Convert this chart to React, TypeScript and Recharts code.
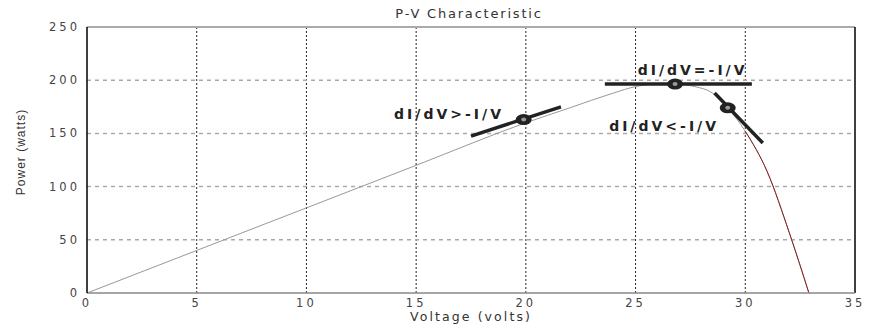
import React from 'react';
import {
    LineChart, Line, XAxis, YAxis, ReferenceLine, ReferenceDot, Label,
} from 'recharts';

// P-V curve of the panel (voltage, power)
const voltage = [0, 5, 10, 15, 20, 22, 24, 25, 26, 27, 27.7, 28.5, 29.2, 30, 31, 32, 32.9];
const power = [0, 40, 80, 120, 160, 174, 188, 194, 196.5, 196, 194, 188, 174, 152, 114, 57, 0];
const tailStart = 30; // part of the curve drawn in dark red

const xTicks = [0, 5, 10, 15, 20, 25, 30, 35];
const yTicks = [0, 50, 100, 150, 200, 250];

// tangent segments: [[v1, p1], [v2, p2]]
const tangents: [number, number][][] = [
    [[17.5, 147.5], [21.6, 175]],
    [[23.6, 196.4], [30.3, 196.4]],
    [[28.6, 188], [30.8, 141]],
];
const operatingPoints: [number, number][] = [[19.9, 163], [26.8, 196.4], [29.2, 174]];
const labels = ['dI/dV>-I/V', 'dI/dV=-I/V', 'dI/dV<-I/V'];
const labelPos: [number, number][] = [[16.5, 168], [27.6, 210], [26.3, 157]];

const curve = voltage.map((v, i) => ({ v, p: power[i], tail: v >= tailStart ? power[i] : null }));

const font = 'DejaVu Sans, sans-serif';
const tickStyle = { fontFamily: font, fontSize: 11.5, fill: '#444', letterSpacing: 3 };

const Marker = (props: any) => {
    const { cx, cy } = props;
    return (
        <g>
            <ellipse cx={cx} cy={cy} rx={8} ry={5.5} fill="#222" />
            <ellipse cx={cx} cy={cy} rx={2.5} ry={2} fill="#999" />
        </g>
    );
};

const App: React.FC = () => {
    return (
        <div style={{ position: 'absolute', left: 0, top: 0, background: '#fff' }}>
            <LineChart width={875} height={328} data={curve} margin={{ top: 27, right: 20, left: 27, bottom: 5 }}>
                <XAxis
                    dataKey="v"
                    type="number"
                    domain={[0, 35]}
                    ticks={xTicks}
                    height={30}
                    axisLine={{ stroke: '#888', strokeWidth: 1.5 }}
                    tickLine={false}
                    tick={tickStyle}
                    tickMargin={0}
                />
                <YAxis
                    type="number"
                    domain={[0, 250]}
                    ticks={yTicks}
                    width={60}
                    axisLine={{ stroke: '#000', strokeWidth: 1.5 }}
                    tickLine={false}
                    tick={tickStyle}
                    tickMargin={1}
                />
                {xTicks.slice(1, -1).map((t) => (
                    <ReferenceLine key={`vx-${t}`} x={t} stroke="#222" strokeDasharray="2 2" />
                ))}
                {yTicks.slice(1, -1).map((t) => (
                    <ReferenceLine key={`hy-${t}`} y={t} stroke="#aaa" strokeDasharray="4 4" strokeWidth={1.5} />
                ))}
                <ReferenceLine y={250} stroke="#aaa" strokeWidth={2} />
                <ReferenceLine x={35} stroke="#000" strokeWidth={1.5} />
                <Line dataKey="p" type="monotone" stroke="#999" strokeWidth={1} dot={false} isAnimationActive={false} />
                <Line dataKey="tail" type="monotone" stroke="#8b2020" strokeWidth={1} dot={false} isAnimationActive={false} connectNulls={false} />
                {tangents.map((seg, i) => (
                    <ReferenceLine
                        key={`tan-${i}`}
                        segment={[{ x: seg[0][0], y: seg[0][1] }, { x: seg[1][0], y: seg[1][1] }]}
                        stroke="#222"
                        strokeWidth={3.5}
                    />
                ))}
                {operatingPoints.map(([v, p], i) => (
                    <ReferenceDot key={`op-${i}`} x={v} y={p} r={6} shape={<Marker />} />
                ))}
                {labels.map((txt, i) => (
                    <ReferenceDot key={`lb-${i}`} x={labelPos[i][0]} y={labelPos[i][1]} r={0} fill="none" stroke="none">
                        <Label value={txt} position="center"
                            style={{ fontFamily: font, fontSize: 14, fontWeight: 'bold', fill: '#222', letterSpacing: 3 }} />
                    </ReferenceDot>
                ))}
                <text x={469} y={18} textAnchor="middle" style={{ fontFamily: font, fontSize: 13, fill: '#333', letterSpacing: 1.8 }}>
                    P-V Characteristic
                </text>
                <text x={471} y={321} textAnchor="middle" style={{ fontFamily: font, fontSize: 12.5, fill: '#333', letterSpacing: 2.1 }}>
                    Voltage (volts)
                </text>
                <text x={25} y={152} textAnchor="middle" transform="rotate(-90 25 152)"
                    style={{ fontFamily: 'Liberation Sans Narrow, Arial Narrow, sans-serif', fontSize: 12, fill: '#333', letterSpacing: 1 }}>
                    Power (watts)
                </text>
            </LineChart>
        </div>
    );
};

export default App;
